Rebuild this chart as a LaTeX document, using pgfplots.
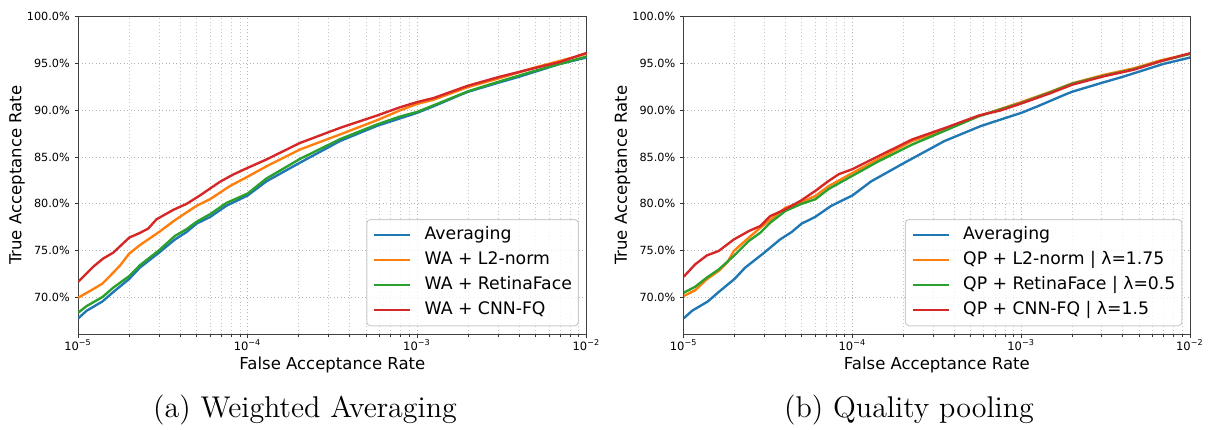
\documentclass[border=0pt]{standalone}
\usepackage{fontspec}
\usepackage{pgfplots}
\usepackage{pgfplotstable}
\pgfplotsset{compat=1.18}
\newfontfamily\dejavu{DejaVu Sans}

\definecolor{cblue}{HTML}{1F77B4}
\definecolor{corange}{HTML}{FF7F0E}
\definecolor{cgreen}{HTML}{2CA02C}
\definecolor{cred}{HTML}{D62728}

% averaging (same curve in both panels)
\pgfplotstableread{
far tar
1e-5 67.8
1.12e-5 68.6
1.39e-5 69.6
1.61e-5 70.6
2e-5 72.0
2.31e-5 73.2
3e-5 74.8
3.72e-5 76.2
4.36e-5 77.0
5e-5 77.9
6e-5 78.6
7.5e-5 79.8
1e-4 80.9
1.29e-4 82.4
2.04e-4 84.4
3.51e-4 86.7
5.77e-4 88.3
7.89e-4 89.1
1e-3 89.7
1.25e-3 90.4
1.79e-3 91.6
2e-3 91.95
3e-3 92.9
4e-3 93.55
5e-3 94.1
6.9e-3 94.9
1e-2 95.6
}\avg

\pgfplotstableread{
far tar
1e-5 70.0
1.17e-5 70.7
1.39e-5 71.5
1.61e-5 72.67
1.76e-5 73.4
2e-5 74.7
2.31e-5 75.6
3e-5 77.0
3.72e-5 78.26
5e-5 79.8
6e-5 80.5
7.86e-5 81.9
1e-4 82.9
1.29e-4 84.0
2.04e-4 85.8
3.51e-4 87.4
5.77e-4 88.9
7.89e-4 89.95
1e-3 90.65
1.25e-3 91.1
2e-3 92.45
3e-3 93.35
5e-3 94.55
1e-2 96.0
}\wal

\pgfplotstableread{
far tar
1e-5 68.4
1.12e-5 69.1
1.39e-5 70.07
1.61e-5 71.07
2e-5 72.3
2.31e-5 73.45
3e-5 75.05
3.72e-5 76.58
4.36e-5 77.3
5e-5 78.1
6e-5 78.9
7.5e-5 80.1
1e-4 81.1
1.29e-4 82.7
2.04e-4 84.8
3.51e-4 86.9
5.77e-4 88.45
7.89e-4 89.3
1e-3 89.8
1.25e-3 90.5
2e-3 92.0
3e-3 93.0
5e-3 94.2
1e-2 95.7
}\war

\pgfplotstableread{
far tar
1e-5 71.7
1.226e-5 73.3
1.40e-5 74.16
1.61e-5 74.8
2e-5 76.4
2.31e-5 76.9
2.59e-5 77.37
2.90e-5 78.36
3.64e-5 79.36
4.36e-5 80.0
5.23e-5 80.9
6.86e-5 82.35
8.22e-5 83.13
1e-4 83.84
1.29e-4 84.73
2.04e-4 86.5
3.51e-4 88.1
5.77e-4 89.4
7.89e-4 90.28
1e-3 90.85
1.25e-3 91.28
2e-3 92.6
3e-3 93.5
5e-3 94.5
6.9e-3 95.1
1e-2 96.09
}\wac

\pgfplotstableread{
far tar
1e-5 70.18
1.17e-5 70.8
1.37e-5 71.96
1.61e-5 72.85
1.81e-5 73.74
1.98e-5 74.98
2.43e-5 76.4
2.85e-5 77.47
3.26e-5 78.3
4.01e-5 79.6
4.92e-5 80.14
6.03e-5 80.85
7.24e-5 81.9
1e-4 83.3
1.43e-4 84.8
2.26e-4 86.7
3.56e-4 87.9
5.62e-4 89.36
1e-3 90.85
1.49e-3 91.95
2e-3 92.85
3.08e-3 93.75
4.64e-3 94.45
6.69e-3 95.3
1e-2 96.0
}\qpl

\pgfplotstableread{
far tar
1e-5 70.53
1.17e-5 71.17
1.37e-5 72.14
1.61e-5 73.0
1.98e-5 74.45
2.43e-5 76.05
2.85e-5 76.94
3.26e-5 78.0
4.01e-5 79.25
4.92e-5 79.96
6.03e-5 80.5
7.24e-5 81.6
1e-4 83.0
1.43e-4 84.55
2.26e-4 86.33
3.56e-4 87.83
5.62e-4 89.36
1e-3 90.75
1.49e-3 91.9
2e-3 92.8
3.08e-3 93.65
4.64e-3 94.35
6.69e-3 95.2
1e-2 96.0
}\qpr

\pgfplotstableread{
far tar
1e-5 72.24
1.17e-5 73.56
1.37e-5 74.5
1.61e-5 74.98
1.98e-5 76.2
2.43e-5 77.1
2.85e-5 77.65
3.26e-5 78.7
4.01e-5 79.43
4.92e-5 80.32
6.03e-5 81.39
7.24e-5 82.46
8.3e-5 83.17
1e-4 83.7
1.43e-4 85.1
2.26e-4 86.87
3.56e-4 88.11
5.62e-4 89.43
7.52e-4 89.95
1e-3 90.7
1.49e-3 91.8
2e-3 92.7
3.08e-3 93.6
4.64e-3 94.3
6.69e-3 95.2
1e-2 96.05
}\qpc

% shared look of both panels
\pgfplotsset{
  scale only axis,
  height=127.2pt,
  xmin=1e-5, xmax=1e-2, ymin=66.1, ymax=100,
  ytick={70,75,...,100},
  xtick={1e-5,1e-4,1e-3,1e-2},
  xticklabels={10\textsuperscript{−5},10\textsuperscript{−4},10\textsuperscript{−3},10\textsuperscript{−2}},
  yticklabel={\pgfmathprintnumber[fixed,fixed zerofill,precision=1]{\tick}\%},
  yticklabel style={font=\dejavu\fontsize{4.5}{5}\selectfont, inner xsep=1.8pt},
  xticklabel style={font=\dejavu\fontsize{4.6}{5}\selectfont, inner ysep=0.5pt},
  label style={font=\dejavu\fontsize{6.6}{8}\selectfont},
  xlabel style={at={(axis description cs:0.5,0)}, anchor=center, yshift=-12.4pt},
  ylabel style={at={(axis description cs:0,0.5)}, anchor=center, yshift=24.5pt},
  tick align=outside,
  major tick length=1.4pt, minor tick length=0.9pt,
  tick style={black!80, line width=0.3pt},
  xtick pos=bottom, ytick pos=left,
  axis line style={black!75, line width=0.4pt},
  xmajorgrids=true, xminorgrids=true, ymajorgrids=true,
  major grid style={densely dotted, black!30, line width=0.3pt},
  minor grid style={densely dotted, black!22, line width=0.3pt},
  every axis plot/.append style={line width=0.95pt, line join=round},
  legend cell align=left,
  legend style={font=\dejavu\fontsize{6.9}{8}\selectfont,
    draw=black!20, fill=white, fill opacity=0.8, text opacity=1,
    rounded corners=1.5pt, at={(0.985,0.025)}, anchor=south east,
    nodes={inner sep=0pt, text height=5.2pt, text depth=1.7pt},
    row sep=3.1pt, column sep=5.3pt, inner xsep=2.6pt, inner ysep=2.8pt},
  legend image code/.code={\draw[#1] (0pt,0pt) -- (14.3pt,0pt);},
}

\begin{document}
\begin{tikzpicture}
  \useasboundingbox (0pt,0pt) rectangle (484pt,-171.6pt);

  \begin{semilogxaxis}[at={(31.3pt,-133.7pt)}, anchor=south west, width=203.3pt,
      xlabel={False Acceptance Rate}, ylabel={True Acceptance Rate},
      /pgf/number format/assume math mode=true]
    \addplot[cblue, no marks] table[x=far,y=tar] {\avg};
    \addlegendentry{Averaging}
    \addplot[corange, no marks] table[x=far,y=tar] {\wal};
    \addlegendentry{WA + L2-norm}
    \addplot[cgreen, no marks] table[x=far,y=tar] {\war};
    \addlegendentry{WA + RetinaFace}
    \addplot[cred, no marks] table[x=far,y=tar] {\wac};
    \addlegendentry{WA + CNN-FQ}
  \end{semilogxaxis}

  \begin{semilogxaxis}[at={(273.5pt,-133.7pt)}, anchor=south west, width=202.5pt,
      xlabel={False Acceptance Rate}, ylabel={True Acceptance Rate},
      /pgf/number format/assume math mode=true]
    \addplot[cblue, no marks] table[x=far,y=tar] {\avg};
    \addlegendentry{Averaging}
    \addplot[corange, no marks] table[x=far,y=tar] {\qpl};
    \addlegendentry{QP + L2-norm | λ=1.75}
    \addplot[cgreen, no marks] table[x=far,y=tar] {\qpr};
    \addlegendentry{QP + RetinaFace | λ=0.5}
    \addplot[cred, no marks] table[x=far,y=tar] {\qpc};
    \addlegendentry{QP + CNN-FQ | λ=1.5}
  \end{semilogxaxis}

  \node[font=\fontsize{12}{14}\selectfont] at (122pt,-164pt) {(a) Weighted Averaging};
  \node[font=\fontsize{12}{14}\selectfont] at (363.6pt,-164pt) {(b) Quality pooling};
\end{tikzpicture}
\end{document}
